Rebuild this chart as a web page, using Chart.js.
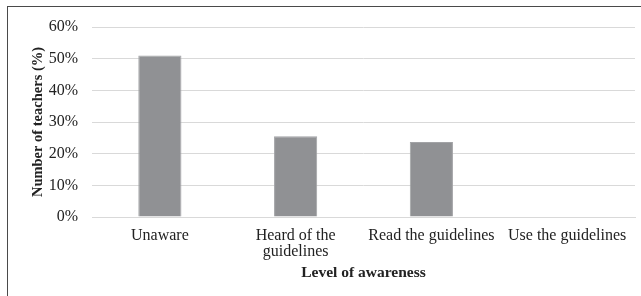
<!DOCTYPE html>
<html>
<head>
<meta charset="utf-8">
<script src="https://cdn.jsdelivr.net/npm/chart.js@4/dist/chart.umd.min.js"></script>
<style>
  html, body { margin: 0; padding: 0; background: #fff; overflow: hidden; }
  #wrap { position: relative; width: 641px; height: 296px; }
  #frame { position: absolute; left: 7px; top: 6px; width: 700px; height: 400px;
           border-left: 1px solid #4a4a4a; border-top: 1px solid #4a4a4a; }
  canvas { position: absolute; left: 0; top: 0; }
</style>
</head>
<body>
<div id="wrap">
  <div id="frame"></div>
  <canvas id="awarenessChart" width="641" height="296"></canvas>
</div>
<script>
// Level of awareness vs share of teachers
const categories = ['Unaware', ['Heard of the', 'guidelines'], 'Read the guidelines', 'Use the guidelines'];
const teachers = [51.0, 25.5, 23.7, 0];
const yTicks = [0, 10, 20, 30, 40, 50, 60];

const serif = "'Liberation Serif', 'Times New Roman', serif";

const ctx = document.getElementById('awarenessChart').getContext('2d');
new Chart(ctx, {
    type: 'bar',
    data: {
        labels: categories,
        datasets: [{
            label: 'Number of teachers (%)',
            data: teachers,
            backgroundColor: '#909194',
            borderColor: '#a2a3a6',
            borderWidth: 1,
            barPercentage: 0.318,
            categoryPercentage: 1
        }]
    },
    options: {
        responsive: false,
        animation: false,
        layout: { padding: { top: 27, right: 6, left: 0, bottom: 14 } },
        plugins: {
            legend: { display: false },
            tooltip: { enabled: false }
        },
        scales: {
            x: {
                grid: { display: false, drawTicks: false },
                border: { display: true, color: '#d9d9d9', width: 1 },
                ticks: {
                    color: '#222',
                    font: { family: serif, size: 16, lineHeight: 1.05 },
                    padding: 10,
                    maxRotation: 0,
                    autoSkip: false
                },
                title: {
                    display: true,
                    text: 'Level of awareness',
                    color: '#222',
                    font: { family: serif, size: 15.5, weight: 'bold' },
                    padding: { top: 4, bottom: 0 }
                },
                afterFit: function(scale) { scale.height = 65; }
            },
            y: {
                min: 0,
                max: 60,
                afterBuildTicks: function(scale) {
                    scale.ticks = yTicks.map(v => ({ value: v }));
                },
                grid: { color: '#d9d9d9', lineWidth: 1, drawTicks: false },
                border: { display: false },
                ticks: {
                    color: '#222',
                    font: { family: serif, size: 16 },
                    padding: 14,
                    callback: v => v + '%'
                },
                title: {
                    display: true,
                    text: 'Number of teachers (%)',
                    color: '#222',
                    font: { family: serif, size: 14.5, weight: 'bold' },
                    padding: { top: 30, bottom: 0 }
                },
                afterFit: function(scale) { scale.width = 92; }
            }
        }
    }
});
</script>
</body>
</html>
